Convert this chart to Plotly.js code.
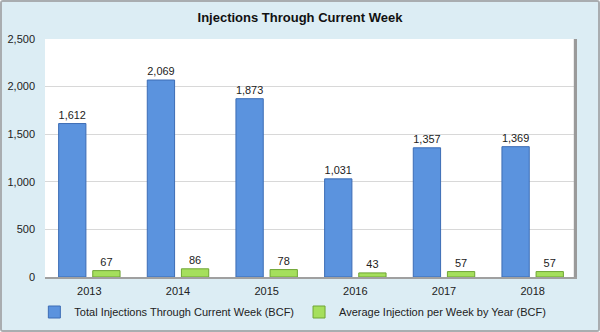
<!DOCTYPE html>
<html>
<head>
<meta charset="utf-8">
<script src="https://cdn.plot.ly/plotly-3.0.1.min.js"></script>
<style>
  html, body { margin: 0; padding: 0; background: #ffffff; }
  #frame { width: 600px; height: 332px; box-sizing: border-box; border: 2px solid #a9adb0; border-radius: 3px; background: #dcedf4; overflow: hidden; }
  #chart { width: 596px; height: 328px; }
</style>
</head>
<body>
<div id="frame"><div id="chart"></div></div>
<script>
const years = ['2013', '2014', '2015', '2016', '2017', '2018'];
const totalInjections = [1612, 2069, 1873, 1031, 1357, 1369];
const avgPerWeek = [67, 86, 78, 43, 57, 57];
const yTickVals = [0, 500, 1000, 1500, 2000, 2500];
const yTickText = ['0', '500', '1,000', '1,500', '2,000', '2,500'];

const fontFam = '"Liberation Sans", Arial, sans-serif';

const traces = [
  {
    type: 'bar', x: years, y: totalInjections,
    name: 'Total Injections Through Current Week (BCF)',
    marker: { color: '#5b93de', line: { color: '#3d6db5', width: 1 } },
    texttemplate: '%{y:,}', textposition: 'outside', cliponaxis: false,
    textfont: { family: fontFam, size: 11, color: '#222' },
    hoverinfo: 'skip'
  },
  {
    type: 'bar', x: years, y: avgPerWeek,
    name: 'Average Injection per Week by Year (BCF)',
    marker: { color: '#a5df5c', line: { color: '#6fa535', width: 1 } },
    texttemplate: '%{y:,}', textposition: 'outside', cliponaxis: false,
    textfont: { family: fontFam, size: 11, color: '#222' },
    hoverinfo: 'skip'
  }
];

const layout = {
  width: 596, height: 328,
  margin: { l: 43, r: 21, t: 37, b: 53 },
  paper_bgcolor: '#dcedf4',
  plot_bgcolor: '#ffffff',
  font: { family: fontFam, size: 11, color: '#222' },
  title: {
    text: '<b>Injections Through Current Week</b>',
    font: { family: fontFam, size: 13, color: '#111' },
    x: 0.5, xanchor: 'center', y: 1 - 15 / 328, yanchor: 'middle', yref: 'container'
  },
  barmode: 'group',
  bargap: 0.23,
  bargroupgap: 0.2,
  showlegend: true,
  legend: {
    orientation: 'h', x: 0.488, xanchor: 'center', xref: 'container',
    y: 1 - 310 / 328, yanchor: 'middle', yref: 'container',
    font: { family: fontFam, size: 11, color: '#222' },
    itemwidth: 30, traceorder: 'normal', bgcolor: 'rgba(0,0,0,0)'
  },
  xaxis: {
    type: 'category', showgrid: false, ticks: '',
    showline: true, linecolor: '#a0a0a0', linewidth: 2,
    tickfont: { family: fontFam, size: 11, color: '#222' },
    ticklabelstandoff: 3
  },
  yaxis: {
    range: [0, 2500], tickvals: yTickVals, ticktext: yTickText,
    showgrid: true, gridcolor: '#d8d8d8', gridwidth: 1,
    zeroline: false, ticks: '', showline: false,
    tickfont: { family: fontFam, size: 11, color: '#222' },
    ticklabelstandoff: 9
  },
  shapes: [
    { type: 'rect', xref: 'paper', yref: 'paper', x0: 0.994, x1: 1.0, y0: 0, y1: 1,
      fillcolor: '#9a9a9a', line: { width: 0 }, layer: 'above' }
  ],
  hovermode: false
};

Plotly.newPlot('chart', traces, layout, { displayModeBar: false, staticPlot: true });
</script>
</body>
</html>
